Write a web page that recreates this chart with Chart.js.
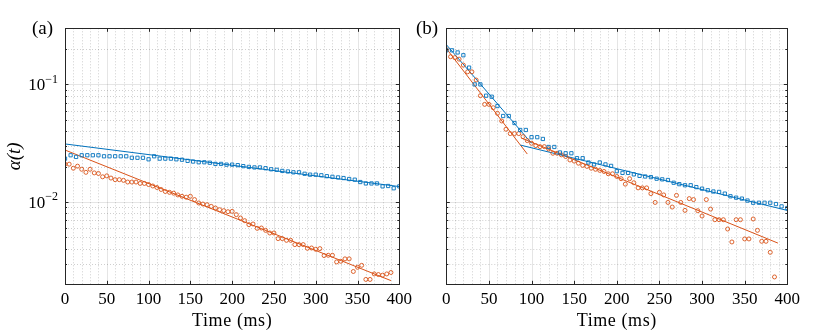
<!DOCTYPE html>
<html>
<head>
<meta charset="utf-8">
<script src="https://cdn.jsdelivr.net/npm/chart.js@4.4.1/dist/chart.umd.min.js"></script>
<style>
  html, body { margin: 0; padding: 0; background: #fff; }
  #wrap { position: relative; width: 830px; height: 336px; }
  canvas { position: absolute; top: 0; }
</style>
</head>
<body>
<div id="wrap">
  <canvas id="panelA" width="415" height="336" style="left:0"></canvas>
  <canvas id="panelB" width="415" height="336" style="left:415px"></canvas>
</div>
<script>
// ---- data ----
// sample times (ms) of the square markers and of the circle markers
const tSquares = [0, 6.7, 13.3, 20, 26.7, 33.3, 40, 46.7, 53.3, 60, 66.7, 73.3, 80, 86.7, 93.3,
  100, 106.7, 113.3, 120, 126.7, 133.3, 140, 146.7, 153.3, 160, 166.7, 173.3, 180, 186.7, 193.3,
  200, 206.7, 213.3, 220, 226.7, 233.3, 240, 246.7, 253.3, 260, 266.7, 273.3, 280, 286.7, 293.3,
  300, 306.7, 313.3, 320, 326.7, 333.3, 340, 346.7, 353.3, 360, 366.7, 373.3, 380, 386.7, 393.3, 400];
const tCircles = [0, 5, 10, 15, 20, 25, 30, 35, 40, 45, 50, 55, 60, 65, 70, 75, 80, 85, 90, 95,
  100, 105, 110, 115, 120, 125, 130, 135, 140, 145, 150, 155, 160, 165, 170, 175, 180, 185, 190, 195,
  200, 205, 210, 215, 220, 225, 230, 235, 240, 245, 250, 255, 260, 265, 270, 275, 280, 285, 290, 295,
  300, 305, 310, 315, 320, 325, 330, 335, 340, 345, 350, 355, 360, 365, 370, 375, 380, 385, 390];

// panel (a)
const aBlue = [0.0234, 0.0250, 0.0242, 0.0250, 0.0250, 0.0250, 0.0250, 0.0245, 0.0245, 0.0245, 0.0245,
  0.0245, 0.0238, 0.0238, 0.0238, 0.0231, 0.0245, 0.0234, 0.0234, 0.0234, 0.0231, 0.0229, 0.0224,
  0.0221, 0.0218, 0.0218, 0.0216, 0.0211, 0.0211, 0.0208, 0.0208, 0.0206, 0.0202, 0.0199, 0.0197,
  0.0197, 0.0194, 0.0190, 0.0188, 0.0184, 0.0182, 0.0179, 0.0179, 0.0174, 0.0171, 0.0171, 0.0169,
  0.0166, 0.0164, 0.0162, 0.0160, 0.0157, 0.0155, 0.0148, 0.0144, 0.0144, 0.0144, 0.0136, 0.0137,
  0.0131, 0.0136];
const aOrange = [0.0210, 0.0210, 0.0194, 0.0202, 0.0190, 0.0179, 0.0190, 0.0177, 0.0175, 0.0164,
  0.0167, 0.0160, 0.0155, 0.0155, 0.0153, 0.0148, 0.0148, 0.0148, 0.0144, 0.0144, 0.0141, 0.0137,
  0.0133, 0.0128, 0.0123, 0.0121, 0.0119, 0.0115, 0.0112, 0.0110, 0.0112, 0.0105, 0.00982, 0.00962,
  0.00949, 0.00919, 0.00890, 0.00861, 0.00845, 0.00828, 0.00834, 0.00782, 0.00732, 0.00695, 0.00643,
  0.00651, 0.00598, 0.00602, 0.00575, 0.00546, 0.00546, 0.00489, 0.00489, 0.00473, 0.00473, 0.00435,
  0.00435, 0.00435, 0.00405, 0.00407, 0.00397, 0.00402, 0.00351, 0.00353, 0.00353, 0.00310, 0.00314,
  0.00329, 0.00329, 0.00257, 0.00279, 0.00290, 0.00220, 0.00220, 0.00245, 0.00242, 0.00239, 0.00245,
  0.00252];
const aFitBlueT = [0, 400], aFitBlueV = [0.0312, 0.01355];
const aFitOrangeT = [0, 390], aFitOrangeV = [0.0277, 0.00215];

// panel (b)
const bBlue = [0.195, 0.195, 0.187, 0.177, 0.139, 0.100, 0.100, 0.0802, 0.0786, 0.0655, 0.0539,
  0.0539, 0.0470, 0.0410, 0.0410, 0.0356, 0.0356, 0.0344, 0.0294, 0.0294, 0.0264, 0.0260, 0.0260,
  0.0236, 0.0236, 0.0217, 0.0209, 0.0217, 0.0209, 0.0203, 0.0183, 0.0177, 0.0177, 0.0172, 0.0167,
  0.0165, 0.0163, 0.0158, 0.0156, 0.0154, 0.0146, 0.0142, 0.0139, 0.0139, 0.0134, 0.0130, 0.0126,
  0.0123, 0.0122, 0.0118, 0.0112, 0.0109, 0.0107, 0.0103, 0.00987, 0.00987, 0.00987, 0.00987,
  0.00962, 0.00919, 0.00890];
const bOrange = [0.198, 0.172, 0.169, 0.164, 0.146, 0.128, 0.128, 0.109, 0.0802, 0.0677, 0.0677,
  0.0634, 0.0568, 0.0489, 0.0416, 0.0382, 0.0382, 0.0382, 0.0360, 0.0333, 0.0316, 0.0302, 0.0296,
  0.0296, 0.0283, 0.0260, 0.0260, 0.0252, 0.0244, 0.0228, 0.0223, 0.0214, 0.0205, 0.0201, 0.0194,
  0.0190, 0.0186, 0.0182, 0.0174, 0.0174, 0.0165, 0.0158, 0.0142, 0.0158, 0.0146, 0.0132, 0.0132,
  0.0132, 0.0118, 0.00993, 0.0121, 0.0115, 0.00993, 0.00907, 0.0114, 0.00993, 0.00850, 0.0107,
  0.0105, 0.00845, 0.00761, 0.0105, 0.00872, 0.00708, 0.00708, 0.00708, 0.00590, 0.00458, 0.00708,
  0.00708, 0.00486, 0.00486, 0.00718, 0.00575, 0.00464, 0.00464, 0.00374, 0.00231];
const bFitBlue1T = [0, 100], bFitBlue1V = [0.218, 0.0316];
const bFitBlue2T = [87, 400], bFitBlue2V = [0.0305, 0.00849];
const bFitOrange1T = [0, 95], bFitOrange1V = [0.202, 0.0256];
const bFitOrange2T = [88, 389], bFitOrange2V = [0.0350, 0.00448];

// axes
const xMajor = [0, 50, 100, 150, 200, 250, 300, 350, 400];
const xMinor = [10, 20, 30, 40, 60, 70, 80, 90, 110, 120, 130, 140, 160, 170, 180, 190, 210, 220,
  230, 240, 260, 270, 280, 290, 310, 320, 330, 340, 360, 370, 380, 390];
const yMajor = [0.01, 0.1];
const yMajorExp = ['-2', '-1'];
const yMinor = [0.002, 0.003, 0.004, 0.005, 0.006, 0.007, 0.008, 0.009,
  0.02, 0.03, 0.04, 0.05, 0.06, 0.07, 0.08, 0.09, 0.2, 0.3];

const BLUE = '#0072BD';
const ORANGE = '#D95319';
const AXIS = '#262626';
const FONT = '"Liberation Serif", "DejaVu Serif", serif';

const pts = (t, v) => v.map((y, i) => ({ x: t[i], y }));

function squares(t, v) {
  return { data: pts(t, v), pointStyle: 'rect', pointRadius: 2.3, borderWidth: 0.9,
    borderColor: BLUE, backgroundColor: 'rgba(0,0,0,0)', showLine: false };
}
function circles(t, v) {
  return { data: pts(t, v), pointStyle: 'circle', pointRadius: 2, borderWidth: 0.9,
    borderColor: ORANGE, backgroundColor: 'rgba(0,0,0,0)', showLine: false };
}
function fit(t, v, color) {
  return { data: pts(t, v), showLine: true, pointRadius: 0, borderWidth: 1,
    borderColor: color, backgroundColor: color };
}

// grid, box, inward ticks and all the text, MATLAB style
const framePlugin = {
  id: 'frame',
  beforeDatasetsDraw(chart) {
    const { ctx, chartArea: a, scales: { x, y } } = chart;
    ctx.save();
    ctx.lineWidth = 0.8;
    ctx.strokeStyle = 'rgba(38,38,38,0.28)';
    ctx.setLineDash([1, 2]);
    xMinor.forEach(v => {
      const px = Math.round(x.getPixelForValue(v)) + 0.5;
      ctx.beginPath(); ctx.moveTo(px, a.top); ctx.lineTo(px, a.bottom); ctx.stroke();
    });
    yMinor.forEach(v => {
      const py = Math.round(y.getPixelForValue(v)) + 0.5;
      ctx.beginPath(); ctx.moveTo(a.left, py); ctx.lineTo(a.right, py); ctx.stroke();
    });
    ctx.setLineDash([]);
    ctx.strokeStyle = 'rgba(38,38,38,0.15)';
    xMajor.forEach(v => {
      const px = Math.round(x.getPixelForValue(v)) + 0.5;
      ctx.beginPath(); ctx.moveTo(px, a.top); ctx.lineTo(px, a.bottom); ctx.stroke();
    });
    yMajor.forEach(v => {
      const py = Math.round(y.getPixelForValue(v)) + 0.5;
      ctx.beginPath(); ctx.moveTo(a.left, py); ctx.lineTo(a.right, py); ctx.stroke();
    });
    ctx.restore();
  },
  afterDraw(chart, args, opts) {
    const { ctx, chartArea: a, scales: { x, y } } = chart;
    ctx.save();
    ctx.strokeStyle = AXIS;
    ctx.lineWidth = 1;
    ctx.strokeRect(Math.round(a.left) + 0.5, Math.round(a.top) + 0.5,
      Math.round(a.right - a.left), Math.round(a.bottom - a.top));

    // ticks pointing inward
    ctx.beginPath();
    xMajor.forEach(v => {
      const px = Math.round(x.getPixelForValue(v)) + 0.5;
      ctx.moveTo(px, a.bottom); ctx.lineTo(px, a.bottom - 3.5);
      ctx.moveTo(px, a.top); ctx.lineTo(px, a.top + 3.5);
    });
    yMajor.forEach(v => {
      const py = Math.round(y.getPixelForValue(v)) + 0.5;
      ctx.moveTo(a.left, py); ctx.lineTo(a.left + 3.5, py);
      ctx.moveTo(a.right, py); ctx.lineTo(a.right - 3.5, py);
    });
    yMinor.forEach(v => {
      const py = Math.round(y.getPixelForValue(v)) + 0.5;
      ctx.moveTo(a.left, py); ctx.lineTo(a.left + 2, py);
      ctx.moveTo(a.right, py); ctx.lineTo(a.right - 2, py);
    });
    ctx.stroke();

    ctx.fillStyle = '#000';
    ctx.textBaseline = 'middle';

    // x tick labels
    ctx.font = '17px ' + FONT;
    ctx.textAlign = 'center';
    xMajor.forEach(v => ctx.fillText(String(v), x.getPixelForValue(v), a.bottom + 15));

    // x title
    ctx.font = '18px ' + FONT;
    ctx.letterSpacing = '0.6px';
    ctx.fillText('Time (ms)', (a.left + a.right) / 2, a.bottom + 37);
    ctx.letterSpacing = '0px';

    // panel letter
    ctx.font = '19px ' + FONT;
    ctx.textAlign = 'left';
    ctx.fillText(opts.letter, opts.letterX, a.top + 1);

    if (opts.yLabels) {
      yMajor.forEach((v, i) => {
        const py = y.getPixelForValue(v);
        ctx.font = '12px ' + FONT;
        const sup = '\u2212' + yMajorExp[i].slice(1);
        const supW = ctx.measureText(sup).width;
        const right = a.left - 7;
        ctx.textAlign = 'right';
        ctx.fillText(sup, right, py - 5);
        ctx.font = '17px ' + FONT;
        ctx.fillText('10', right - supW, py + 1);
      });
      ctx.translate(15, (a.top + a.bottom) / 2);
      ctx.rotate(-Math.PI / 2);
      ctx.textAlign = 'center';
      ctx.font = 'italic 19px ' + FONT;
      ctx.fillText('\u03B1(t)', 0, 0);
    }
    ctx.restore();
  }
};

function makePanel(id, datasets, padding, frameOpts) {
  return new Chart(document.getElementById(id), {
    type: 'scatter',
    data: { datasets },
    options: {
      responsive: false,
      animation: false,
      layout: { padding },
      plugins: { legend: { display: false }, tooltip: { enabled: false }, frame: frameOpts },
      scales: {
        x: { type: 'linear', min: 0, max: 400, display: false },
        y: { type: 'logarithmic', min: 0.002, max: 0.3, display: false }
      }
    },
    plugins: [framePlugin]
  });
}

makePanel('panelA', [
  squares(tSquares, aBlue),
  circles(tCircles, aOrange),
  fit(aFitBlueT, aFitBlueV, BLUE),
  fit(aFitOrangeT, aFitOrangeV, ORANGE)
], { left: 65, right: 15.7, top: 28.3, bottom: 51.7 }, { letter: '(a)', letterX: 32, yLabels: true });

makePanel('panelB', [
  squares(tSquares, bBlue),
  circles(tCircles, bOrange),
  fit(bFitBlue1T, bFitBlue1V, BLUE),
  fit(bFitBlue2T, bFitBlue2V, BLUE),
  fit(bFitOrange1T, bFitOrange1V, ORANGE),
  fit(bFitOrange2T, bFitOrange2V, ORANGE)
], { left: 31.3, right: 42.7, top: 28.3, bottom: 51.7 }, { letter: '(b)', letterX: 1, yLabels: false });
</script>
</body>
</html>
